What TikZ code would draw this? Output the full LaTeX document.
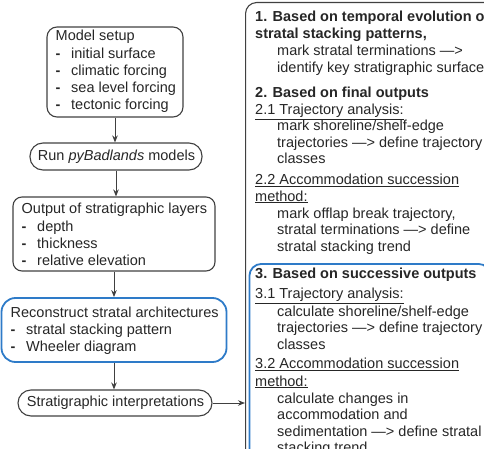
\documentclass[tikz,border=0pt]{standalone}
\usepackage{fontspec}
\setmainfont{Liberation Sans}
\usetikzlibrary{arrows.meta}
\definecolor{ink}{HTML}{262626}
\definecolor{edge}{HTML}{404040}
\definecolor{hl}{HTML}{2E7BC8}
\newcommand{\itm}[1]{\makebox[15.5pt][l]{\textbf{-}}#1}
\begin{document}
\begin{tikzpicture}[x=1pt,y=-1pt,
  every node/.style={font=\fontsize{14.5}{17.2}\selectfont, text=ink},
  lbox/.style={draw=edge, line width=1.1pt, inner sep=0pt},
  ltext/.style={align=left, inner sep=0pt, anchor=west},
  rline/.style={anchor=base west, inner sep=0pt},
  arr/.style={-{Stealth[length=7pt,width=5.5pt]}, draw=edge, line width=1pt}]
\useasboundingbox (0,0) rectangle (484,449);
\clip (0,0) rectangle (484,449);

% left column boxes
\node[lbox, minimum width=136pt, minimum height=90pt, rounded corners=10pt] (setup) at (115,72) {};
\node[ltext] (setupT) at (55.5,71.5) {Model setup\\\itm{initial surface}\\\itm{climatic forcing}\\\itm{sea level forcing}\\\itm{tectonic forcing}};

\node[lbox, minimum width=172pt, minimum height=27pt, rounded corners=13pt] (run) at (116,156.5) {};
\node[inner sep=0pt] (runT) at (116.5,157) {Run \textit{pyBadlands} models};

\node[lbox, minimum width=202pt, minimum height=74pt, rounded corners=9pt] (out) at (114,234) {};
\node[ltext] (outT) at (21.5,234.5) {Output of stratigraphic layers\\\itm{depth}\\\itm{thickness}\\\itm{relative elevation}};

\node[lbox, draw=hl, line width=1.8pt, minimum width=225pt, minimum height=64pt, rounded corners=14pt] (recon) at (114,330) {};
\node[ltext] (reconT) at (10.5,330.5) {Reconstruct stratal architectures\\\itm{stratal stacking pattern}\\\itm{Wheeler diagram}};

\node[lbox, minimum width=194pt, minimum height=26pt, rounded corners=13pt] (interp) at (115,403) {};
\node[inner sep=0pt] (interpT) at (115.5,403) {Stratigraphic interpretations};

% right panel
\node[lbox, anchor=north west, minimum width=260pt, minimum height=470pt, rounded corners=11pt] (panel) at (245,2) {};
\node[lbox, draw=hl, line width=1.8pt, anchor=north west, minimum width=241pt, minimum height=210pt, rounded corners=12pt] (succ) at (248.5,263) {};

% arrows
\draw[arr] (setup.south) -- (setup.south |- run.north);
\draw[arr] (run.south) -- (run.south |- out.north);
\draw[arr] (out.south) -- (out.south |- recon.north);
\draw[arr] (recon.south) -- (recon.south |- interp.north);
\draw[arr] (interp.east) -- (interp.east -| panel.west);

% right panel text
\node[rline] (r1) at (255,22) {\textbf{1. Based on temporal evolution of}};
\node[rline] (r2) at (255,38.5) {\textbf{stratal stacking patterns,}};
\node[rline] (r3) at (277,56) {mark stratal terminations —>};
\node[rline] (r4) at (277,73) {identify key stratigraphic surfaces};
\node[rline] (r5) at (255,98) {\textbf{2. Based on final outputs}};
\node[rline] (r6) at (255,114.5) {\underline{2.1 Trajectory analysis:}};
\node[rline] (r7) at (277,131) {mark shoreline/shelf-edge};
\node[rline] (r8) at (277,147.5) {trajectories —> define trajectory};
\node[rline] (r9) at (277,164) {classes};
\node[rline] (r10) at (255,184.5) {\underline{2.2 Accommodation succession}};
\node[rline] (r11) at (255,201) {\underline{method:}};
\node[rline] (r12) at (277,218) {mark offlap break trajectory,};
\node[rline] (r13) at (277,234.5) {stratal terminations —> define};
\node[rline] (r14) at (277,251.5) {stratal stacking trend};
\node[rline] (r15) at (255,278.5) {\textbf{3. Based on successive outputs}};
\node[rline] (r16) at (255,298.5) {\underline{3.1 Trajectory analysis:}};
\node[rline] (r17) at (277,316) {calculate shoreline/shelf-edge};
\node[rline] (r18) at (277,332.5) {trajectories —> define trajectory};
\node[rline] (r19) at (277,349) {classes};
\node[rline] (r20) at (255,368.5) {\underline{3.2 Accommodation succession}};
\node[rline] (r21) at (255,386) {\underline{method:}};
\node[rline] (r22) at (277,403) {calculate changes in};
\node[rline] (r23) at (277,419.5) {accommodation and};
\node[rline] (r24) at (277,436) {sedimentation —> define stratal};
\node[rline] (r25) at (277,452.5) {stacking trend};
\end{tikzpicture}
\end{document}
